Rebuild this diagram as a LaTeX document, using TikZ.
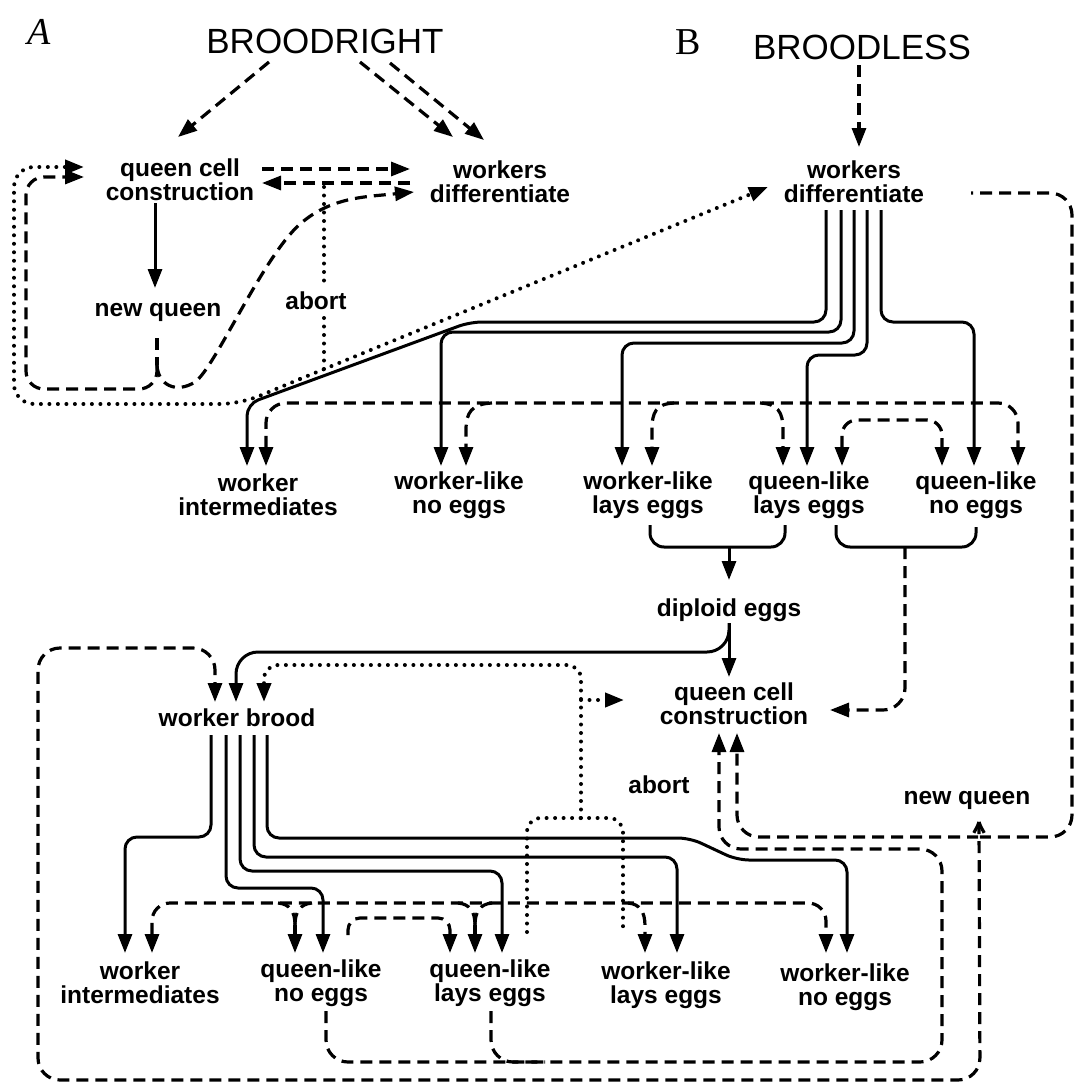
\documentclass[tikz,border=0pt]{standalone}
\usepackage{fontspec}
\setmainfont{Liberation Sans}
\newfontfamily\handfont{Liberation Serif}
\usetikzlibrary{arrows.meta,calc}
\begin{document}
\begin{tikzpicture}[x=1pt,y=-1pt,
  lbl/.style={font=\fontsize{24.5}{24}\selectfont\bfseries, align=center, inner sep=0pt},
  ttl/.style={font=\fontsize{35}{36}\selectfont, inner sep=0pt},
  hand/.style={font=\handfont\fontsize{38}{38}\selectfont, inner sep=0pt},
  sol/.style={line width=3pt},
  dsh/.style={line width=3.2pt, dash pattern=on 12pt off 7pt},
  dot/.style={line width=4pt, line cap=round, dash pattern=on 0pt off 8.5pt},
  >={Triangle[length=19pt,width=14pt]},
]
\useasboundingbox (0,0) rectangle (1080,1090);

% ---------- nodes ----------
\node[hand] (lblA) at (39,32) {\itshape A};
\node[ttl] (broodright) at (325,41) {BROODRIGHT};
\node[hand] (lblB) at (688,42) {B};
\node[ttl] (broodless) at (862,47) {BROODLESS};
\node[lbl] (qccA) at (180,180) {queen cell\\construction};
\node[lbl] (wdA) at (500,182) {workers\\differentiate};
\node[lbl] (nqA) at (158,312) {new queen};
\node[lbl] (abortA) at (316,301) {abort};
\node[lbl] (wdB) at (854,182) {workers\\differentiate};
\node[lbl] (wi1) at (258,495) {worker\\intermediates};
\node[lbl] (wlne1) at (459,495) {worker-like\\no eggs};
\node[lbl] (wlle1) at (648,495) {worker-like\\lays eggs};
\node[lbl] (qlle1) at (809,495) {queen-like\\lays eggs};
\node[lbl] (qlne1) at (976,495) {queen-like\\no eggs};
\node[lbl] (diploid) at (729,610) {diploid eggs};
\node[lbl] (qccB) at (734,704) {queen cell\\construction};
\node[lbl] (wbrood) at (237,718) {worker brood};
\node[lbl] (abortB) at (659,785) {abort};
\node[lbl] (nqB) at (967,800) {new queen};
\node[lbl] (wi2) at (140,983) {worker\\intermediates};
\node[lbl] (qlne2) at (321,983) {queen-like\\no eggs};
\node[lbl] (qlle2) at (490,983) {queen-like\\lays eggs};
\node[lbl] (wlle2) at (666,985) {worker-like\\lays eggs};
\node[lbl] (wlne2) at (845,987) {worker-like\\no eggs};

% ---------- panel A ----------
\draw[dsh,->] ($(broodright)+(-56,21)$) -- ($(qccA)+(-2,-43)$);
\draw[dsh,->] ($(broodright)+(35,21)$) -- ($(wdA)+(-47,-45)$);
\draw[dsh,->] ($(broodright)+(65,22)$) -- ($(wdA)+(-16,-42)$);
\draw[dsh,->] ($(qccA)+(82,-11)$) -- ($(wdA)+(-90,-13)$);
\draw[dsh,->] ($(wdA)+(-90,1)$) -- ($(qccA)+(82,3)$);
\draw[sol,->] ($(qccA)+(-25,23)$) -- ($(nqA)+(-3,-24)$);

\coordinate (abtop) at (324,187);
\coordinate (abbot) at (324,369);
\draw[dot] (abtop) -- ($(abortA)+(8,-14)$);
\draw[dot] ($(abortA)+(8,17)$) -- (abbot);

\coordinate (dj) at (300,379);
\draw[dot,->] (dj) -- ($(wdB)+(-86,5)$);
\draw[dot,->,rounded corners=20pt] (dj) -- (240,404) -- (14,404) -- (14,167) -- ($(qccA)+(-96,-13)$);

\coordinate (nqAj) at (157,365);
\draw[dsh] ($(nqA)+(-1,26)$) -- (nqAj);
\draw[dsh,->,rounded corners=18pt] (nqAj) -- (157,389) -- (26,389) -- (26,177) -- ($(qccA)+(-96,-3)$);
\draw[dsh,->] (nqAj) .. controls (158,385) and (176,394) .. (195,382)
  .. controls (215,368) and (262,258) .. (300,224)
  .. controls (322,205) and (345,199) .. (372,196) -- ($(wdA)+(-86,10)$);

% ---------- panel B, top ----------
\draw[dsh,->] ($(broodless)+(-3,18)$) -- ($(wdB)+(5,-35)$);

\draw[sol,->,rounded corners=12pt] ($(wdB)+(-28,28)$) -- (826,322) -- (470,322) -- (247,404) -- ($(wi1)+(-11,-29)$);
\draw[sol,->,rounded corners=12pt] ($(wdB)+(-13,28)$) -- (841,332) -- (441,332) -- ($(wlne1)+(-18,-29)$);
\draw[sol,->,rounded corners=12pt] ($(wdB)+(0,28)$) -- (854,343) -- (622,343) -- ($(wlle1)+(-26,-29)$);
\draw[sol,->,rounded corners=12pt] ($(wdB)+(13,28)$) -- (867,355) -- (807,355) -- ($(qlle1)+(-2,-29)$);
\draw[sol,->,rounded corners=12pt] ($(wdB)+(27,28)$) -- (881,322) -- (974,322) -- ($(qlne1)+(-2,-29)$);

% row 1 dashed network
\draw[dsh,<->,rounded corners=20pt] ($(wi1)+(8,-29)$) -- (266,403) -- (1018,403) -- ($(qlne1)+(42,-29)$);
\coordinate (b1) at (492,403);
\coordinate (b2) at (674,403);
\coordinate (b3) at (760,403);
\draw[dsh,->] (b1) .. controls (472,404) and (466,412) .. (466,430) -- ($(wlne1)+(7,-29)$);
\draw[dsh,->] (b2) .. controls (656,404) and (652,412) .. (652,430) -- ($(wlle1)+(4,-29)$);
\draw[dsh,->] (b3) .. controls (778,404) and (783,412) .. (783,430) -- ($(qlle1)+(-26,-29)$);
\draw[dsh,<->,rounded corners=15pt] ($(qlle1)+(33,-29)$) -- (842,420) -- (942,420) -- ($(qlne1)+(-34,-29)$);

% brackets
\draw[sol,rounded corners=14pt] ($(wlle1)+(2,30)$) -- (650,547) -- (785,547) -- ($(qlle1)+(-24,30)$);
\coordinate (br1) at (729,547);
\draw[sol,->] (br1) -- ($(diploid)+(0,-30)$);
\draw[sol,rounded corners=14pt] ($(qlle1)+(27,30)$) -- (836,547) -- (976,547) -- ($(qlne1)+(0,32)$);
\coordinate (br2) at (905,547);
\draw[dsh,->,rounded corners=22pt] (br2) -- (905,710) -- ($(qccB)+(96,6)$);

% diploid eggs
\draw[sol,->] ($(diploid)+(0,13)$) -- ($(qccB)+(-5,-27)$);
\draw[sol,->,rounded corners=22pt] ($(diploid)+(0,13)$) -- (729,652) -- (236,652) -- ($(wbrood)+(-1,-16)$);

% new queen B loops
\coordinate (nqBj) at ($(nqB)+(12,22)$);
\draw[dsh,->,rounded corners=22pt] (nqBj) -- (980,1080) -- (38,1080) -- (38,648) -- (215,648) -- ($(wbrood)+(-22,-16)$);
\draw[dsh,rounded corners=22pt] (nqBj) .. controls (982,832) and (990,837) .. (1002,837) -- (1072,837) -- (1072,193) -- ($(wdB)+(117,11)$);
\draw[dsh,->,rounded corners=22pt] (nqBj) .. controls (976,832) and (968,837) .. (956,837) -- (737,837) -- ($(qccB)+(3,29)$);

% inner loop from queen-like (row 2)
\draw[dsh,->,rounded corners=22pt] ($(qlne2)+(5,28)$) -- (326,1062) -- (942,1062) -- (942,849) -- (719,849) -- ($(qccB)+(-15,29)$);
\draw[dsh,rounded corners=22pt] ($(qlle2)+(1,28)$) -- (491,1062) -- (545,1062);

% row 2 solid lines from worker brood
\draw[sol,->,rounded corners=12pt] ($(wbrood)+(-26,17)$) -- (211,837) -- (125,837) -- ($(wi2)+(-15,-30)$);
\draw[sol,->,rounded corners=12pt] ($(wbrood)+(-11,17)$) -- (226,888) -- (323,888) -- ($(qlne2)+(2,-30)$);
\draw[sol,->,rounded corners=12pt] ($(wbrood)+(3,17)$) -- (240,871) -- (502,871) -- ($(qlle2)+(12,-30)$);
\draw[sol,->,rounded corners=12pt] ($(wbrood)+(17,17)$) -- (254,857) -- (677,857) -- ($(wlle2)+(11,-32)$);
\draw[sol,->,rounded corners=12pt] ($(wbrood)+(30,17)$) -- (267,838) -- (690,838) -- (737,860) -- (847,860) -- ($(wlne2)+(2,-34)$);

% row 2 dashed network
\draw[dsh,<->,rounded corners=18pt] ($(wi2)+(12,-30)$) -- (152,903) -- (826,903) -- ($(wlne2)+(-19,-34)$);
\coordinate (y1) at (295,925);
\draw[dsh] (278,903) .. controls (290,904) and (295,912) .. (y1);
\draw[dsh] (312,903) .. controls (300,904) and (295,912) .. (y1);
\draw[dsh,->] (y1) -- ($(qlne2)+(-26,-30)$);
\coordinate (y2) at (475,925);
\draw[dsh] (458,903) .. controls (470,904) and (475,912) .. (y2);
\draw[dsh] (492,903) .. controls (480,904) and (475,912) .. (y2);
\draw[dsh,->] (y2) -- ($(qlle2)+(-15,-30)$);
\coordinate (b4) at (628,903);
\draw[dsh,->] (b4) .. controls (640,904) and (645,912) .. (645,926) -- ($(wlle2)+(-21,-32)$);
\draw[dsh,->,rounded corners=12pt] ($(qlne2)+(27,-48)$) -- (348,918) -- (450,918) -- ($(qlle2)+(-40,-30)$);

% dotted abort paths (B)
\draw[dot,rounded corners=14pt] ($(qlle2)+(37,-51)$) -- (527,818) -- (623,818) -- ($(wlle2)+(-43,-55)$);
\coordinate (abj) at (581,818);
\coordinate (abk) at (581,700);
\draw[dot,->,rounded corners=14pt] (abj) -- (581,665) -- (264,665) -- ($(wbrood)+(27,-16)$);
\draw[dot,->] (abk) -- ($(qccB)+(-110,-4)$);
\end{tikzpicture}
\end{document}
